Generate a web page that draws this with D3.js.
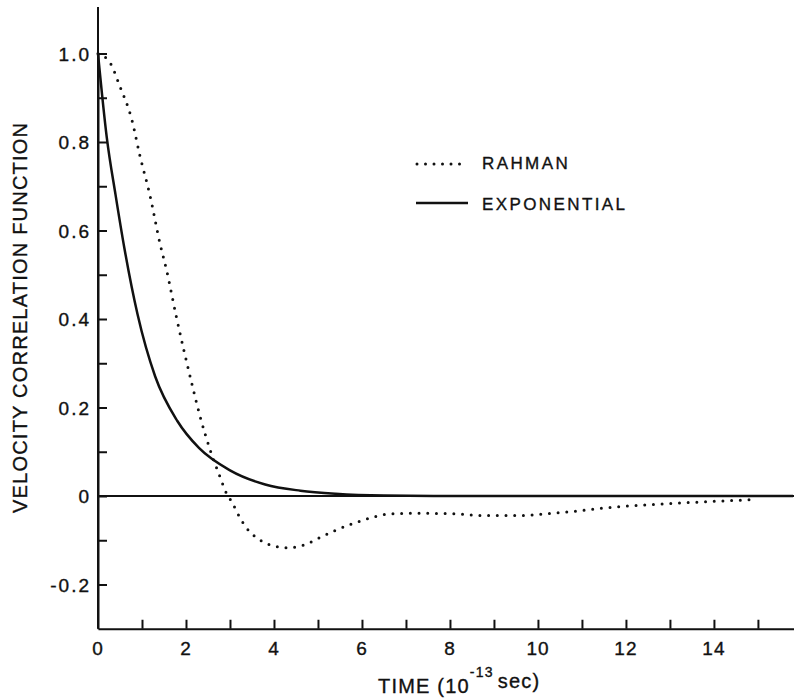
<!DOCTYPE html>
<html>
<head>
<meta charset="utf-8">
<script src="https://cdn.jsdelivr.net/npm/d3@7"></script>
<style>
  body { margin: 0; background: #fff; }
  svg { display: block; }
  text { font-family: "Liberation Sans", Arial, sans-serif; fill: #111; stroke: #111; stroke-width: 0.35; }
  .axis path, .axis line { stroke: #111; stroke-width: 2; }
</style>
</head>
<body>
<div id="chart"></div>
<script>
// values (time in 1e-13 sec)
var expTime = [0, 0.2, 0.4, 0.6, 0.9, 1.3, 1.8, 2.3, 3.0, 3.8, 4.6, 5.4, 6.5, 8, 15.8];
var expValue = [1.0, 0.81, 0.68, 0.56, 0.41, 0.27, 0.17, 0.108, 0.058, 0.026, 0.012, 0.005, 0.001, 0, 0];

var rahmanTime = [0, 0.27, 0.5, 0.77, 0.95, 1.18, 1.41, 1.56, 1.77, 2.13, 2.32, 2.55, 2.77, 2.92, 3.04, 3.23, 3.45, 3.6, 3.9, 4.3, 4.7, 5.0, 5.39, 5.8, 6.18, 6.59, 7.17, 8.0, 8.8, 9.6, 10.2, 10.8, 11.4, 12.0, 12.8, 13.4, 14.0, 14.5, 14.95];
var rahmanValue = [1.0, 0.98, 0.925, 0.85, 0.77, 0.68, 0.57, 0.51, 0.41, 0.255, 0.18, 0.104, 0.044, 0.006, -0.013, -0.05, -0.081, -0.094, -0.11, -0.117, -0.11, -0.096, -0.078, -0.062, -0.05, -0.041, -0.039, -0.04, -0.044, -0.044, -0.04, -0.035, -0.028, -0.023, -0.018, -0.015, -0.012, -0.01, -0.008];

var xTickLabels = ["0", "2", "4", "6", "8", "10", "12", "14"];
var yTickLabels = ["1.0", "0.8", "0.6", "0.4", "0.2", "0", "-0.2"];
var legendNames = ["RAHMAN", "EXPONENTIAL"];

var W = 794, H = 698;
var svg = d3.select("#chart").append("svg").attr("width", W).attr("height", H);

var x = d3.scaleLinear().domain([0, 15.82]).range([98, 794]);
var y = d3.scaleLinear().domain([-0.3, 1.0]).range([628.75, 53.5]);
var yTop = 7;

// axes with inward ticks, labels added separately
var xAxis = d3.axisBottom(x).tickValues(d3.range(1, 16)).tickSize(-9).tickSizeOuter(0).tickFormat("");
var yAxis = d3.axisLeft(y).tickValues(d3.range(-2, 11).map(function(d){ return d / 10; })).tickSize(-9).tickSizeOuter(0).tickFormat("");

svg.append("g").attr("class", "axis")
  .attr("transform", "translate(0," + y(-0.3) + ")")
  .call(xAxis);
svg.append("g").attr("class", "axis")
  .attr("transform", "translate(" + x(0) + ",0)")
  .call(yAxis);
// extend y axis line to the top of the frame
svg.append("line")
  .attr("x1", x(0)).attr("x2", x(0))
  .attr("y1", yTop).attr("y2", y(-0.3))
  .attr("stroke", "#111").attr("stroke-width", 2);

// zero line
svg.append("line")
  .attr("x1", x(0)).attr("x2", W)
  .attr("y1", y(0)).attr("y2", y(0))
  .attr("stroke", "#111").attr("stroke-width", 2);

// tick labels
svg.selectAll(".xlab").data(xTickLabels).enter().append("text")
  .attr("class", "xlab")
  .attr("x", function(d){ return x(+d); })
  .attr("y", y(-0.3) + 26)
  .attr("text-anchor", "middle")
  .attr("font-size", 19)
  .attr("letter-spacing", 1)
  .text(function(d){ return d; });

svg.selectAll(".ylab").data(yTickLabels).enter().append("text")
  .attr("class", "ylab")
  .attr("x", 91)
  .attr("y", function(d){ return y(+d) + 7; })
  .attr("text-anchor", "end")
  .attr("font-size", 19)
  .attr("letter-spacing", 2)
  .text(function(d){ return d; });

// axis titles
svg.append("text")
  .attr("transform", "translate(27,318) rotate(-90)")
  .attr("text-anchor", "middle")
  .attr("font-size", 20)
  .attr("textLength", 390)
  .attr("lengthAdjust", "spacing")
  .text("VELOCITY CORRELATION FUNCTION");

var xt = svg.append("text")
  .attr("x", 378).attr("y", 693)
  .attr("font-size", 20)
  .attr("letter-spacing", 1.2);
xt.append("tspan").text("TIME (10");
xt.append("tspan").attr("font-size", 14).attr("dy", -16).text("-13");
xt.append("tspan").attr("dx", 4).attr("dy", 11).text("sec)");

// curves
var line = d3.line()
  .curve(d3.curveMonotoneX)
  .x(function(d){ return x(d[0]); })
  .y(function(d){ return y(d[1]); });

var expData = expTime.map(function(t, i){ return [t, expValue[i]]; });
var rahmanData = rahmanTime.map(function(t, i){ return [t, rahmanValue[i]]; });

svg.append("path")
  .datum(expData)
  .attr("d", line)
  .attr("fill", "none")
  .attr("stroke", "#111")
  .attr("stroke-width", 2.5);

svg.append("path")
  .datum(rahmanData)
  .attr("d", line)
  .attr("fill", "none")
  .attr("stroke", "#111")
  .attr("stroke-width", 3)
  .attr("stroke-linecap", "round")
  .attr("stroke-dasharray", "0 8.7");

// legend
var legend = svg.append("g").attr("class", "legend");
legend.append("line")
  .attr("x1", 417).attr("x2", 468).attr("y1", 164).attr("y2", 164)
  .attr("stroke", "#111").attr("stroke-width", 3)
  .attr("stroke-linecap", "round").attr("stroke-dasharray", "0 8.5");
legend.append("line")
  .attr("x1", 416).attr("x2", 468).attr("y1", 203).attr("y2", 203)
  .attr("stroke", "#111").attr("stroke-width", 2.5);
legend.selectAll(".ltext").data(legendNames).enter().append("text")
  .attr("class", "ltext")
  .attr("x", 482)
  .attr("y", function(d, i){ return i === 0 ? 169 : 210; })
  .attr("font-size", 17)
  .attr("letter-spacing", 2.4)
  .text(function(d){ return d; });
</script>
</body>
</html>
